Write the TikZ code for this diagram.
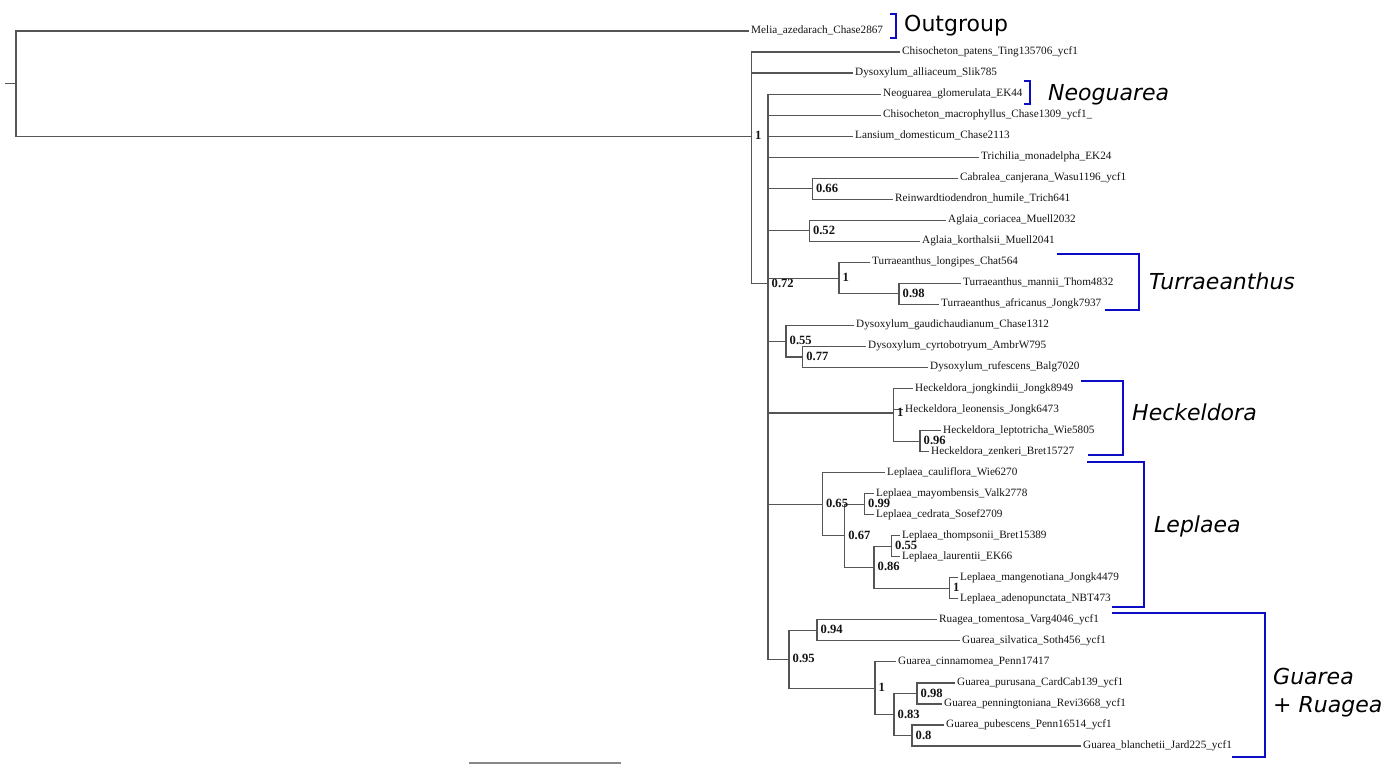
\documentclass[tikz,border=0pt]{standalone}
\usepackage{fontspec}
\setmainfont{Liberation Serif}
\newfontfamily\cladefont{DejaVu Sans}[ItalicFont={DejaVu Sans Oblique}]
\definecolor{branch}{RGB}{85,85,85}
\definecolor{cladeblue}{RGB}{12,12,196}
\definecolor{tiptext}{RGB}{20,20,20}
\tikzset{
  tip/.style={anchor=west, inner sep=2pt, text=tiptext, font=\fontsize{11.2}{13}\selectfont, text height=7.5pt, text depth=2.5pt},
  supp/.style={anchor=west, inner sep=0pt, xshift=3.5pt, yshift=0.5pt, text=tiptext, font=\fontsize{12.6}{14}\selectfont\bfseries},
  edge/.style={draw=branch, line width=1.15pt},
  cladebracket/.style={draw=cladeblue, line width=2.8pt},
  cladelab/.style={anchor=base west, inner sep=0pt, text=black, font=\cladefont\fontsize{22}{26}\selectfont},
  scalebar/.style={draw=branch!70, line width=1.4pt}
}
\begin{document}
\begin{tikzpicture}[x=1pt,y=-1pt]
\useasboundingbox[fill=white] (0,0) rectangle (1386,769);
% tips
\node[tip] (t1) at (749,31.00) {Melia\_azedarach\_Chase2867};
\node[tip] (t2) at (900,52.03) {Chisocheton\_patens\_Ting135706\_ycf1};
\node[tip] (t3) at (853,73.06) {Dysoxylum\_alliaceum\_Slik785};
\node[tip] (t4) at (881,94.09) {Neoguarea\_glomerulata\_EK44};
\node[tip] (t5) at (881,115.12) {Chisocheton\_macrophyllus\_Chase1309\_ycf1\_};
\node[tip] (t6) at (853,136.15) {Lansium\_domesticum\_Chase2113};
\node[tip] (t7) at (979,157.18) {Trichilia\_monadelpha\_EK24};
\node[tip] (t8) at (958,178.21) {Cabralea\_canjerana\_Wasu1196\_ycf1};
\node[tip] (t9) at (893,199.24) {Reinwardtiodendron\_humile\_Trich641};
\node[tip] (t10) at (946,220.27) {Aglaia\_coriacea\_Muell2032};
\node[tip] (t11) at (920,241.30) {Aglaia\_korthalsii\_Muell2041};
\node[tip] (t12) at (870,262.33) {Turraeanthus\_longipes\_Chat564};
\node[tip] (t13) at (961,283.36) {Turraeanthus\_mannii\_Thom4832};
\node[tip] (t14) at (939,304.39) {Turraeanthus\_africanus\_Jongk7937};
\node[tip] (t15) at (854,325.42) {Dysoxylum\_gaudichaudianum\_Chase1312};
\node[tip] (t16) at (866,346.45) {Dysoxylum\_cyrtobotryum\_AmbrW795};
\node[tip] (t17) at (928,367.48) {Dysoxylum\_rufescens\_Balg7020};
\node[tip] (t18) at (913,388.51) {Heckeldora\_jongkindii\_Jongk8949};
\node[tip] (t19) at (903,409.54) {Heckeldora\_leonensis\_Jongk6473};
\node[tip] (t20) at (941,430.57) {Heckeldora\_leptotricha\_Wie5805};
\node[tip] (t21) at (929,451.60) {Heckeldora\_zenkeri\_Bret15727};
\node[tip] (t22) at (885,472.63) {Leplaea\_cauliflora\_Wie6270};
\node[tip] (t23) at (874,493.66) {Leplaea\_mayombensis\_Valk2778};
\node[tip] (t24) at (874,514.69) {Leplaea\_cedrata\_Sosef2709};
\node[tip] (t25) at (900,535.72) {Leplaea\_thompsonii\_Bret15389};
\node[tip] (t26) at (900,556.75) {Leplaea\_laurentii\_EK66};
\node[tip] (t27) at (958,577.78) {Leplaea\_mangenotiana\_Jongk4479};
\node[tip] (t28) at (958,598.81) {Leplaea\_adenopunctata\_NBT473};
\node[tip] (t29) at (937,619.84) {Ruagea\_tomentosa\_Varg4046\_ycf1};
\node[tip] (t30) at (960,640.87) {Guarea\_silvatica\_Soth456\_ycf1};
\node[tip] (t31) at (896,661.90) {Guarea\_cinnamomea\_Penn17417};
\node[tip] (t32) at (955,682.93) {Guarea\_purusana\_CardCab139\_ycf1};
\node[tip] (t33) at (942,703.96) {Guarea\_penningtoniana\_Revi3668\_ycf1};
\node[tip] (t34) at (944,724.99) {Guarea\_pubescens\_Penn16514\_ycf1};
\node[tip] (t35) at (1081,746.02) {Guarea\_blanchetii\_Jard225\_ycf1};
% internal nodes
\coordinate (r0) at (5,83.59);
\coordinate (root) at (16,83.59);
\coordinate (nIn) at (751.5,136.18);
\coordinate (n072) at (768,283.44);
\coordinate (n066) at (812.3,188.73);
\coordinate (n052) at (809.3,230.79);
\coordinate (nTurr) at (839,278.10);
\coordinate (n098) at (899,293.88);
\coordinate (n055a) at (786,341.19);
\coordinate (n077) at (802.7,356.97);
\coordinate (nHeck) at (893.3,413.05);
\coordinate (n096) at (920,441.09);
\coordinate (n065) at (822.3,504.18);
\coordinate (n067) at (844.7,535.72);
\coordinate (n099) at (864.5,504.18);
\coordinate (n086) at (874,567.27);
\coordinate (n055b) at (891.5,546.24);
\coordinate (n1L) at (949.5,588.30);
\coordinate (n095) at (789,659.28);
\coordinate (n094) at (817,630.36);
\coordinate (n1G) at (875,688.19);
\coordinate (n083) at (894,714.48);
\coordinate (n098g) at (917,693.45);
\coordinate (n08) at (912,735.51);
% edges
\draw[edge] (r0) -- (root);
\draw[edge] (root) |- (t1.west);
\draw[edge] (root) |- (nIn);
\draw[edge] (nIn) |- (t2.west);
\draw[edge] (nIn) |- (t3.west);
\draw[edge] (nIn) |- (n072);
\foreach \c in {t4,t5,t6,t7}{\draw[edge] (n072) |- (\c.west);}
\foreach \c in {n066,n052,nTurr,n055a,nHeck,n065,n095}{\draw[edge] (n072) |- (\c);}
\draw[edge] (n066) |- (t8.west);
\draw[edge] (n066) |- (t9.west);
\draw[edge] (n052) |- (t10.west);
\draw[edge] (n052) |- (t11.west);
\draw[edge] (nTurr) |- (t12.west);
\draw[edge] (nTurr) |- (n098);
\draw[edge] (n098) |- (t13.west);
\draw[edge] (n098) |- (t14.west);
\draw[edge] (n055a) |- (t15.west);
\draw[edge] (n055a) |- (n077);
\draw[edge] (n077) |- (t16.west);
\draw[edge] (n077) |- (t17.west);
\draw[edge] (nHeck) |- (t18.west);
\draw[edge] (nHeck) |- (t19.west);
\draw[edge] (nHeck) |- (n096);
\draw[edge] (n096) |- (t20.west);
\draw[edge] (n096) |- (t21.west);
\draw[edge] (n065) |- (t22.west);
\draw[edge] (n065) |- (n067);
\draw[edge] (n067) |- (n099);
\draw[edge] (n067) |- (n086);
\draw[edge] (n099) |- (t23.west);
\draw[edge] (n099) |- (t24.west);
\draw[edge] (n086) |- (n055b);
\draw[edge] (n086) |- (n1L);
\draw[edge] (n055b) |- (t25.west);
\draw[edge] (n055b) |- (t26.west);
\draw[edge] (n1L) |- (t27.west);
\draw[edge] (n1L) |- (t28.west);
\draw[edge] (n095) |- (n094);
\draw[edge] (n095) |- (n1G);
\draw[edge] (n094) |- (t29.west);
\draw[edge] (n094) |- (t30.west);
\draw[edge] (n1G) |- (t31.west);
\draw[edge] (n1G) |- (n083);
\draw[edge] (n083) |- (n098g);
\draw[edge] (n083) |- (n08);
\draw[edge] (n098g) |- (t32.west);
\draw[edge] (n098g) |- (t33.west);
\draw[edge] (n08) |- (t34.west);
\draw[edge] (n08) |- (t35.west);
% support values
\node[supp] (sIn) at (nIn) {1};
\node[supp] (s072) at (n072) {0.72};
\node[supp] (s066) at (n066) {0.66};
\node[supp] (s052) at (n052) {0.52};
\node[supp] (sTurr) at (nTurr) {1};
\node[supp] (s098) at (n098) {0.98};
\node[supp] (s055a) at (n055a) {0.55};
\node[supp] (s077) at (n077) {0.77};
\node[supp] (sHeck) at (nHeck) {1};
\node[supp] (s096) at (n096) {0.96};
\node[supp] (s065) at (n065) {0.65};
\node[supp] (s099) at (n099) {0.99};
\node[supp] (s067) at (n067) {0.67};
\node[supp] (s086) at (n086) {0.86};
\node[supp] (s055b) at (n055b) {0.55};
\node[supp] (s1L) at (n1L) {1};
\node[supp] (s095) at (n095) {0.95};
\node[supp] (s094) at (n094) {0.94};
\node[supp] (s1G) at (n1G) {1};
\node[supp] (s083) at (n083) {0.83};
\node[supp] (s098g) at (n098g) {0.98};
\node[supp] (s08) at (n08) {0.8};
% scale bar
\coordinate (sb1) at (469,763);
\coordinate (sb2) at (621,763);
\draw[scalebar] (sb1) -- (sb2);
% clade brackets and labels
\draw[cladebracket] (890,14) -- (896,14) -- (896,38) -- (890,38);
\node[cladelab] (lOut) at (904,31) {Outgroup};
\draw[cladebracket] (1024,81) -- (1030,81) -- (1030,104) -- (1024,104);
\node[cladelab] (lNeo) at (1048,100) {\itshape Neoguarea};
\draw[cladebracket] (1057,254) -- (1139,254) -- (1139,310) -- (1105,310);
\node[cladelab] (lTurr) at (1149,289) {\itshape Turraeanthus};
\draw[cladebracket] (1081,381) -- (1123,381) -- (1123,455) -- (1088,455);
\node[cladelab] (lHeck) at (1132,420) {\itshape Heckeldora};
\draw[cladebracket] (1087,462) -- (1144,462) -- (1144,607) -- (1112,607);
\node[cladelab] (lLep) at (1154,532) {\itshape Leplaea};
\draw[cladebracket] (1112,613) -- (1265,613) -- (1265,757) -- (1232,757);
\node[cladelab] (lGua) at (1273,684) {\itshape Guarea};
\node[cladelab] (lRua) at (1273,712) {\itshape + Ruagea};
\end{tikzpicture}
\end{document}
